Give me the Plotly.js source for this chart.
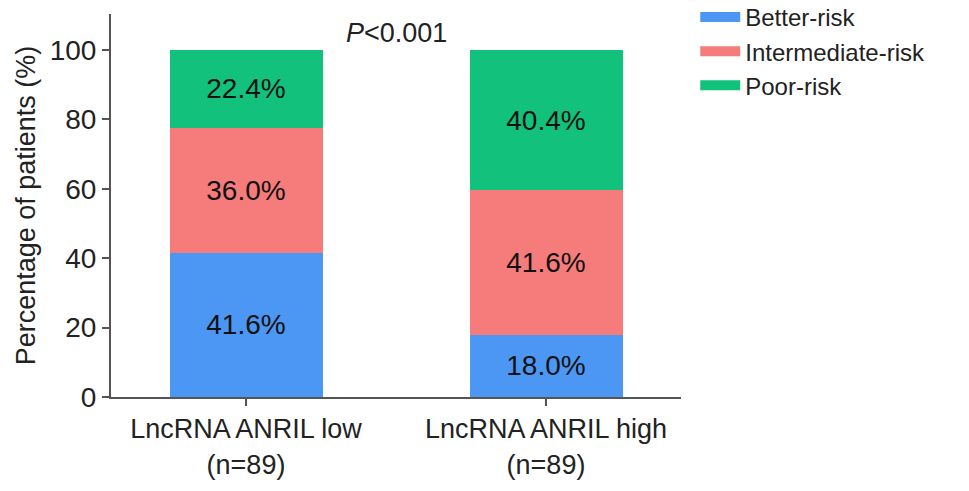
<!DOCTYPE html>
<html>
<head>
<meta charset="utf-8">
<script src="https://cdn.plot.ly/plotly-3.0.1.min.js"></script>
<style>html,body{margin:0;padding:0;background:#fff;}</style>
</head>
<body>
<div id="chart" style="width:969px;height:491px;"></div>
<script>
var categories = ["LncRNA ANRIL low<br>(n=89)", "LncRNA ANRIL high<br>(n=89)"];
var seriesNames = ["Better-risk", "Intermediate-risk", "Poor-risk"];
var betterRisk = [41.6, 18.0];
var intermediateRisk = [36.0, 41.6];
var poorRisk = [22.4, 40.4];
var seriesColors = ["#4b97f3", "#f67b7b", "#12c17b"];
var yTicks = [0, 20, 40, 60, 80, 100];
var pLabel = "<i>P</i><0.001";

var values = [betterRisk, intermediateRisk, poorRisk];
var FONT = "Liberation Sans, Arial, Helvetica, sans-serif";

var traces = [];
values.forEach(function (vals, i) {
  traces.push({
    type: "bar",
    x: categories,
    y: vals,
    name: seriesNames[i],
    marker: {color: seriesColors[i], line: {width: 0}},
    text: vals.map(function (v) { return v.toFixed(1) + "%"; }),
    textposition: "inside",
    insidetextanchor: "middle",
    textfont: {family: FONT, size: 28, color: "#111"},
    constraintext: "none",
    showlegend: false,
    hoverinfo: "skip"
  });
});
values.forEach(function (vals, i) {
  traces.push({
    type: "scatter",
    mode: "lines",
    x: [null],
    y: [null],
    name: seriesNames[i],
    line: {color: seriesColors[i], width: 13},
    showlegend: true,
    hoverinfo: "skip"
  });
});

var layout = {
  width: 969,
  height: 491,
  margin: {l: 111, r: 288, t: 14, b: 94, autoexpand: false},
  paper_bgcolor: "#ffffff",
  plot_bgcolor: "#ffffff",
  barmode: "stack",
  bargap: 0.49,
  font: {family: FONT, color: "#222"},
  showlegend: true,
  legend: {
    x: 1.025, y: 1.05, xanchor: "left", yanchor: "top",
    traceorder: "normal",
    font: {family: FONT, size: 24, color: "#222"},
    itemwidth: 40,
    tracegroupgap: 0,
    bgcolor: "rgba(0,0,0,0)"
  },
  xaxis: {
    type: "category",
    range: [-0.45, 1.45],
    automargin: false,
    showline: true, linecolor: "#555", linewidth: 2,
    ticks: "outside", ticklen: 7, tickwidth: 2, tickcolor: "#555",
    tickfont: {family: FONT, size: 27, color: "#222"},
    showgrid: false, zeroline: false,
    fixedrange: true
  },
  yaxis: {
    range: [0, 110.4],
    automargin: false,
    tickvals: yTicks,
    ticktext: yTicks.map(String),
    showline: true, linecolor: "#555", linewidth: 2,
    ticks: "outside", ticklen: 7, tickwidth: 2, tickcolor: "#555",
    tickfont: {family: FONT, size: 28, color: "#222"},
    showgrid: false, zeroline: false,
    title: {text: "Percentage of patients (%)", font: {family: FONT, size: 27, color: "#222"}, standoff: 6},
    fixedrange: true
  },
  annotations: [{
    xref: "x", yref: "y", x: 0.5, y: 105,
    text: pLabel, showarrow: false,
    font: {family: FONT, size: 27, color: "#222"},
    xanchor: "center", yanchor: "middle"
  }]
};

Plotly.newPlot("chart", traces, layout, {displayModeBar: false, staticPlot: true});
</script>
</body>
</html>
